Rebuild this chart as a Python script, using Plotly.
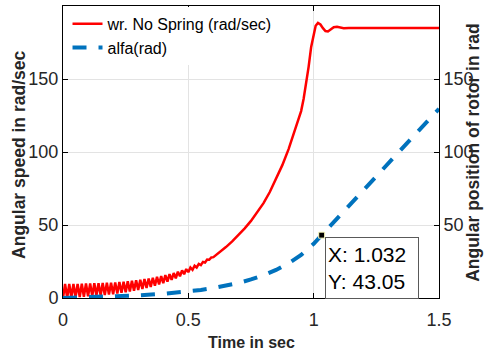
import plotly.graph_objects as go

# ---- data ----
time_wr = [0, 0.0083, 0.0167, 0.025, 0.0333, 0.0417, 0.05, 0.0583, 0.0667, 0.075, 0.0833, 0.0917,
           0.1, 0.1083, 0.1167, 0.125, 0.1333, 0.1417, 0.15, 0.1583, 0.1667, 0.175, 0.1833, 0.1917,
           0.2, 0.2083, 0.2167, 0.225, 0.2333, 0.2417, 0.25, 0.2583, 0.2667, 0.275, 0.2833, 0.2917,
           0.3, 0.3083, 0.3167, 0.325, 0.3333, 0.3417, 0.35, 0.3583, 0.3667, 0.375, 0.3833, 0.3917,
           0.4, 0.4083, 0.4167, 0.425, 0.4333, 0.4417, 0.45, 0.4583, 0.4667, 0.475, 0.4833, 0.4917,
           0.5, 0.5083, 0.5167, 0.525, 0.5333, 0.5417, 0.55, 0.5583, 0.5667, 0.575, 0.5833, 0.5917,
           0.6, 0.625, 0.65, 0.675, 0.7, 0.725, 0.75, 0.775, 0.8, 0.825, 0.85, 0.875, 0.9, 0.925,
           0.95, 0.96, 0.97, 0.98, 0.99,
           1.0, 1.008, 1.017, 1.027, 1.037, 1.047, 1.057, 1.067, 1.08, 1.093, 1.107, 1.12, 1.14,
           1.2, 1.3, 1.4, 1.5]
speed_wr = [0.0, 9.6, 0.2, 9.7, 0.3, 9.7, 0.5, 9.7, 0.7, 9.8, 0.9, 9.9,
            1.1, 10.0, 1.3, 10.1, 1.6, 10.2, 1.8, 10.3, 2.1, 10.4, 2.3, 10.5,
            2.6, 10.7, 3.0, 11.0, 3.5, 11.2, 3.9, 11.5, 4.4, 11.8, 5.0, 12.1,
            5.5, 12.5, 6.2, 13.0, 6.9, 13.4, 7.6, 13.9, 8.4, 14.5, 9.3, 15.0,
            10.1, 15.7, 11.2, 16.4, 12.4, 17.1, 13.5, 18.0, 14.9, 18.9, 16.3, 19.8,
            17.7, 20.9, 19.3, 22.1, 20.9, 23.3, 22.5, 24.7, 24.3, 26.3, 26.2, 27.8,
            28.0, 31.3, 34.9, 38.8, 43.0, 47.7, 52.8, 58.5, 65.0, 72.6, 81.3, 91.0, 102.0, 114.3,
            128.0, 136.5, 146.5, 158.5, 172.0,
            181.5, 186.5, 188.4, 187.3, 184.8, 182.9, 182.6, 183.8, 185.4, 185.7, 185.2, 184.8, 185.0,
            185.0, 185.0, 185.0, 185.0]

time_alfa = [0, 0.1, 0.2, 0.3, 0.4, 0.5, 0.55, 0.6, 0.65, 0.7, 0.75, 0.8, 0.85, 0.9, 0.95,
             1.0, 1.032, 1.1, 1.2, 1.3, 1.4, 1.5]
alfa = [0, 0.5, 1.1, 1.85, 2.9, 4.45, 5.5, 6.8, 8.35, 10.3, 12.7, 15.6, 19.25, 23.8, 29.5,
        37.1, 43.05, 55.6, 74.1, 92.6, 111.1, 129.6]

tip_x = [1.032]
tip_y = [43.05]

x_ticks = [0, 0.5, 1, 1.5]
x_tick_text = ["0", "0.5", "1", "1.5"]
y_ticks = [0, 50, 100, 150]
y2_ticks = [50, 100, 150]

FONT = "Liberation Sans, Arial, sans-serif"
TXT = "#262626"

fig = go.Figure()
fig.add_trace(go.Scatter(x=time_wr, y=speed_wr, mode="lines", name="wr. No Spring (rad/sec)",
                         line=dict(color="#ff0000", width=2.5)))
fig.add_trace(go.Scatter(x=time_alfa, y=alfa, mode="lines", name="alfa(rad)", yaxis="y2",
                         line=dict(color="#0072bd", width=4, dash="14px,12px")))
fig.add_trace(go.Scatter(x=tip_x, y=tip_y, mode="markers", yaxis="y2", showlegend=False,
                         marker=dict(symbol="square", size=6, color="black",
                                     line=dict(color="#ffffc0", width=1))))

fig.update_layout(
    width=485, height=354,
    margin=dict(l=63, r=46, t=6, b=56),
    paper_bgcolor="white", plot_bgcolor="white",
    font=dict(family=FONT, color=TXT),
    showlegend=True,
    legend=dict(x=0.012, y=0.997, xanchor="left", yanchor="top",
                bgcolor="white", borderwidth=0, font=dict(size=16, color="black", family=FONT),
                tracegroupgap=0),
    xaxis=dict(range=[0, 1.5], tickvals=x_ticks, ticktext=x_tick_text,
               ticks="inside", ticklen=5, tickcolor="black",
               showline=True, linecolor="black", linewidth=1, mirror="ticks",
               showgrid=True, gridcolor="#e3e3e3", zeroline=False,
               ticklabelstandoff=5,
               tickfont=dict(size=18, color=TXT)),
    yaxis=dict(range=[0, 200], tickvals=y_ticks,
               ticks="inside", ticklen=5, tickcolor="black",
               showline=True, linecolor="black", linewidth=1, mirror=True,
               showgrid=True, gridcolor="#e3e3e3", zeroline=False,
               tickfont=dict(size=18, color=TXT)),
    yaxis2=dict(range=[0, 200], tickvals=y2_ticks, overlaying="y", side="right",
                ticks="inside", ticklen=5, tickcolor="black",
                showline=True, linecolor="black", linewidth=1,
                showgrid=False, zeroline=False,
                tickfont=dict(size=18, color=TXT)),
    annotations=[
        dict(text="<b>Time in sec</b>", xref="paper", yref="paper", x=0.5, y=-0.151,
             xanchor="center", yanchor="middle", showarrow=False,
             font=dict(size=16, color=TXT, family=FONT)),
        dict(text="<b>Angular speed in rad/sec</b>", xref="paper", yref="paper", x=-0.117, y=0.49,
             xanchor="center", yanchor="middle", showarrow=False, textangle=-90,
             font=dict(size=17.5, color=TXT, family=FONT)),
        dict(text="<b>Angular position of rotor in rad</b>", xref="paper", yref="paper", x=1.09, y=0.5,
             xanchor="center", yanchor="middle", showarrow=False, textangle=-90,
             font=dict(size=17.5, color=TXT, family=FONT)),
        dict(text="X: 1.032<br>Y: 43.05", xref="x", yref="y2", x=tip_x[0], y=tip_y[0],
             xanchor="left", yanchor="top", xshift=3, yshift=-2, showarrow=False,
             align="left", width=88, height=56, bgcolor="white", bordercolor="#595959",
             borderwidth=1, borderpad=2, font=dict(size=21, color="black", family=FONT)),
    ],
)

fig.write_html("out.html", config={"displayModeBar": False},
               post_script="document.body.style.margin='0px';document.body.style.overflow='hidden';")
